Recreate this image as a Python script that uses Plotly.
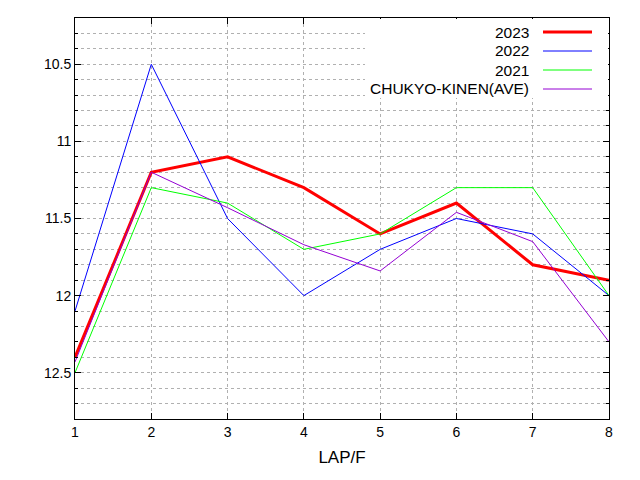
import plotly.graph_objects as go

laps = [1, 2, 3, 4, 5, 6, 7, 8]
y2023 = [12.4, 11.2, 11.1, 11.3, 11.6, 11.4, 11.8, 11.9]
y2022 = [12.1, 10.5, 11.5, 12.0, 11.7, 11.5, 11.6, 12.0]
y2021 = [12.5, 11.3, 11.4, 11.7, 11.6, 11.3, 11.3, 12.0]
yave = [12.43, 11.2, 11.43, 11.67, 11.84, 11.46, 11.65, 12.3]

series = [
    ("2023", y2023, "#ff0000", 3),
    ("2022", y2022, "#0000ff", 1),
    ("2021", y2021, "#00ff00", 1),
    ("CHUKYO-KINEN(AVE)", yave, "#9400d3", 1),
]

W, H = 640, 480
L, R, T, B = 75, 609, 18, 419
OFF = 8  # page body offset


def px(x):
    return (x - L) / (R - L)


def py(y):
    return (B - y) / (B - T)


fig = go.Figure()
for name, ys, col, w in series:
    fig.add_trace(go.Scatter(x=laps, y=ys, mode="lines", name=name,
                             line=dict(color=col, width=w)))

# gnuplot-style key, text left of a line sample
shapes = [dict(type="rect", xref="paper", yref="paper", x0=px(365), x1=px(608),
               y0=py(98), y1=py(19), fillcolor="white", line=dict(width=0), layer="above")]
annotations = []
for i, (name, ys, col, w) in enumerate(series):
    yy = py(32 + i * 19)
    shapes.append(dict(type="line", xref="paper", yref="paper", x0=px(543), x1=px(592),
                       y0=yy, y1=yy, line=dict(color=col, width=w), layer="above"))
    annotations.append(dict(xref="paper", yref="paper", x=px(531), y=yy, text=name,
                            showarrow=False, xanchor="right", yanchor="middle",
                            font=dict(size=15.5, color="black")))

axis_common = dict(showline=True, linecolor="black", mirror="ticks", ticks="inside",
                   ticklen=6, tickcolor="black", gridcolor="#b0b0b0", griddash="dot",
                   zeroline=False, tickfont=dict(size=14, color="black"))

fig.update_layout(
    width=W, height=H,
    margin=dict(l=L - OFF, r=W - R + OFF, t=T - OFF, b=H - B + OFF),
    paper_bgcolor="white", plot_bgcolor="white",
    font=dict(family="Liberation Sans, Arial", size=14, color="black"),
    showlegend=False,
    shapes=shapes, annotations=annotations,
    xaxis=dict(range=[1, 8], dtick=1, title=dict(text="LAP/F", standoff=12), **axis_common),
    yaxis=dict(range=[12.8, 10.2], dtick=0.5, tick0=10.5,
               minor=dict(dtick=0.1, tick0=10.2, showgrid=True, gridcolor="#b0b0b0",
                          griddash="dot", ticks="inside", ticklen=3, tickcolor="black"),
               **axis_common),
)

fig.write_html("out.html")
